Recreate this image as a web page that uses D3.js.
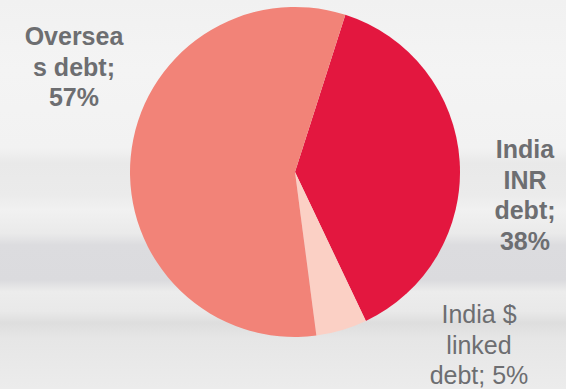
<!DOCTYPE html>
<html>
<head>
<meta charset="utf-8">
<script src="https://cdn.jsdelivr.net/npm/d3@7"></script>
<style>
  body { margin: 0; overflow: hidden; }
  text { font-family: "Liberation Sans", Arial, sans-serif; }
</style>
</head>
<body>
<div id="chart"></div>
<script>
var width = 566,
  height = 389;

// data
var categories = ["India INR debt", "India $ linked debt", "Overseas debt"];
var shares = [38, 5, 57];
var colors = ["#e3173f", "#fbd0c5", "#f28378"];

// label lines as shown on the slide
var labelLines = [
  ["India", "INR", "debt;", "38%"],
  ["India $", "linked", "debt; 5%"],
  ["Oversea", "s debt;", "57%"]
];
var labelBold = [true, false, true];

var svg = d3.select("#chart").append("svg")
  .attr("width", width)
  .attr("height", height);

// streaky grey slide background
var defs = svg.append("defs");
var bg = defs.append("linearGradient")
  .attr("id", "bg")
  .attr("x1", 0).attr("y1", 0).attr("x2", 0).attr("y2", 1);
[
  [0, "#f1f1f1"], [0.18, "#f4f4f4"], [0.38, "#f2f2f2"], [0.42, "#e9e9e9"],
  [0.5, "#ebebeb"], [0.54, "#f1f1f1"], [0.6, "#eaeaea"], [0.63, "#dcdcdf"],
  [0.72, "#dbdbde"], [0.75, "#ececec"], [0.8, "#e9e9e9"], [0.83, "#dedede"],
  [0.87, "#e6e6e6"], [1, "#ececec"]
].forEach(function(s) {
  bg.append("stop").attr("offset", s[0]).attr("stop-color", s[1]);
});

svg.append("rect")
  .attr("width", width)
  .attr("height", height)
  .attr("fill", "url(#bg)");

var cx = 295,
  cy = 172,
  radius = 165;

var pie = d3.pie()
  .sort(null)
  .startAngle(0.31)
  .endAngle(0.31 + 2 * Math.PI);

var arc = d3.arc()
  .innerRadius(0)
  .outerRadius(radius);

var g = svg.append("g")
  .attr("transform", "translate(" + cx + "," + cy + ")");

g.selectAll("path")
  .data(pie(shares))
  .enter().append("path")
  .attr("d", arc)
  .attr("fill", function(d, i) { return colors[i]; });

// label anchor points (centre x, first baseline y)
var labelPos = [[525, 158], [479, 323], [74, 45]];

labelLines.forEach(function(lines, i) {
  var t = svg.append("text")
    .attr("text-anchor", "middle")
    .attr("fill", "#6d6e71")
    .style("font-size", "25px")
    .style("font-weight", labelBold[i] ? "bold" : "normal");
  lines.forEach(function(line, j) {
    t.append("tspan")
      .attr("x", labelPos[i][0])
      .attr("y", labelPos[i][1] + j * 30.5)
      .text(line);
  });
});
</script>
</body>
</html>
